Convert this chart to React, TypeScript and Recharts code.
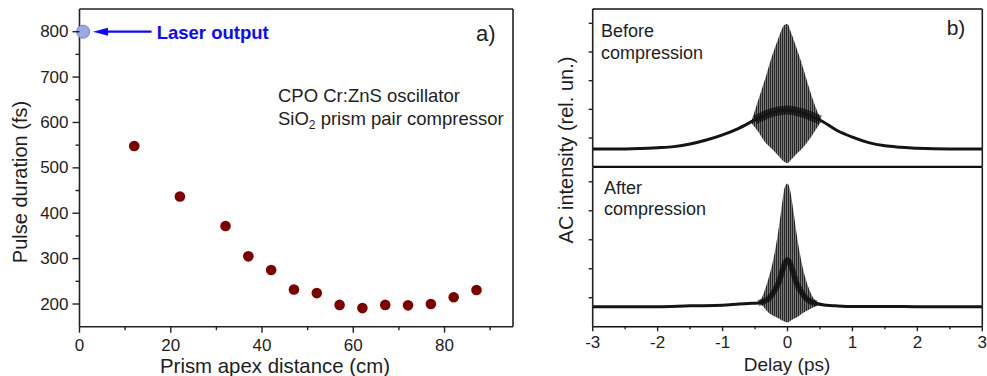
import React from 'react';
import { ScatterChart, Scatter, ComposedChart, Line, Area, XAxis, YAxis, ReferenceLine } from 'recharts';

// a) pulse duration vs prism apex distance
const apexDistance = [12, 22, 32, 37, 42, 47, 52, 57, 62, 67, 72, 77, 82, 87];
const pulseDuration = [548, 437, 372, 305, 275, 232, 224, 198, 191, 198, 197, 200, 215, 231];
const laserDistance = [0.8];
const laserDuration = [800];

const apexTicks = [0, 10, 20, 30, 40, 50, 60, 70, 80, 90];
const durationTicks = [200, 250, 300, 350, 400, 450, 500, 550, 600, 650, 700, 750, 800];

// b) interferometric autocorrelation traces
const delayTicks = [-3, -2.5, -2, -1.5, -1, -0.5, 0, 0.5, 1, 1.5, 2, 2.5, 3];
const acTicks = [1, 2, 3, 4, 5];

const beforeDelay = [-3, -2.5, -2, -1.75, -1.5, -1.25, -1, -0.75, -0.5, -0.25, 0, 0.25, 0.5, 0.75, 1, 1.25, 1.5, 1.75, 2, 2.5, 3];
const beforeTrace = [0.62, 0.62, 0.66, 0.7, 0.79, 0.93, 1.11, 1.34, 1.63, 1.88, 1.98, 1.86, 1.63, 1.28, 1.03, 0.84, 0.73, 0.68, 0.64, 0.62, 0.62];
const beforeFringeDelay = [-0.55, -0.45, -0.35, -0.25, -0.15, -0.05, 0, 0.05, 0.15, 0.25, 0.35, 0.45, 0.52];
const beforeFringeHigh = [1.63, 2.33, 3.02, 3.78, 4.42, 4.94, 4.98, 4.71, 4.07, 3.37, 2.62, 1.98, 1.63];
const beforeFringeLow = [1.51, 1.22, 0.87, 0.64, 0.41, 0.17, 0.12, 0.23, 0.47, 0.7, 0.99, 1.34, 1.57];

const afterDelay = [-3, -2, -1.5, -1, -0.75, -0.6, -0.45, -0.3, -0.15, 0, 0.15, 0.3, 0.45, 0.6, 0.75, 1, 1.5, 2, 3];
const afterTrace = [0.69, 0.69, 0.72, 0.74, 0.78, 0.8, 0.82, 0.95, 1.45, 2.3, 1.45, 0.95, 0.8, 0.74, 0.72, 0.7, 0.7, 0.69, 0.69];
const afterFringeDelay = [-0.45, -0.4, -0.3, -0.22, -0.14, -0.09, -0.04, 0, 0.04, 0.09, 0.14, 0.22, 0.32, 0.42, 0.5];
const afterFringeHigh = [0.8, 0.98, 1.61, 2.3, 3.33, 4.14, 4.83, 4.94, 4.71, 4.02, 3.22, 2.19, 1.38, 0.92, 0.8];
const afterFringeLow = [0.8, 0.75, 0.5, 0.38, 0.29, 0.22, 0.17, 0.15, 0.2, 0.27, 0.32, 0.45, 0.58, 0.69, 0.75];

const FONT = "'Liberation Sans', Arial, sans-serif";
const INK = '#1e1e1e';
const AXIS = '#222';
const BLUE = '#0a0aff';

const pulsePoints = apexDistance.map((x, i) => ({ x, y: pulseDuration[i] }));
const laserPoints = laserDistance.map((x, i) => ({ x, y: laserDuration[i] }));

const beforeRows = beforeDelay.map((t, i) => ({ t, v: beforeTrace[i] }));
const beforeCore = beforeRows.filter(r => Math.abs(r.t) <= 0.55);
const beforeBand = beforeFringeDelay.map((t, i) => ({ t, band: [beforeFringeLow[i], beforeFringeHigh[i]] }));
const afterRows = afterDelay.map((t, i) => ({ t, v: afterTrace[i] }));
const afterCore = afterRows.filter(r => Math.abs(r.t) <= 0.45);
const afterBand = afterFringeDelay.map((t, i) => ({ t, band: [afterFringeLow[i], afterFringeHigh[i]] }));

const num = (v: any) => Number(v);

const DurationTick = (props: any) => {
  const x = num(props.x), y = num(props.y);
  const major = props.payload.value % 100 === 0;
  return (
    <g>
      <path d={`M${x},${y}H${x - (major ? 7 : 4)}`} stroke={AXIS} strokeWidth={1.4} fill="none" />
      {major && (
        <text x={x - 11} y={y} textAnchor="end" dominantBaseline="central" fontSize={17} fill={INK} fontFamily={FONT}>
          {props.payload.value}
        </text>
      )}
    </g>
  );
};

const ApexTick = (props: any) => {
  const x = num(props.x), y = num(props.y);
  const major = props.payload.value % 20 === 0;
  return (
    <g>
      <path d={`M${x},${y}V${y + (major ? 6 : 3.5)}`} stroke={AXIS} strokeWidth={1.4} fill="none" />
      {major && (
        <text x={x} y={y + 24.5} textAnchor="middle" fontSize={17} fill={INK} fontFamily={FONT}>
          {props.payload.value}
        </text>
      )}
    </g>
  );
};

// ticks for panel b: dir = +1 points down, -1 points up
const makeDelayTick = (dir: number, labels: boolean) => (props: any) => {
  const x = num(props.x), y = num(props.y);
  const major = Number.isInteger(props.payload.value);
  return (
    <g>
      <path d={`M${x},${y}V${y + dir * (major ? 4.5 : 2.5)}`} stroke={AXIS} strokeWidth={1.4} fill="none" />
      {labels && major && (
        <text x={x} y={y + 21.6} textAnchor="middle" fontSize={17} fill={INK} fontFamily={FONT}>
          {props.payload.value}
        </text>
      )}
    </g>
  );
};
const TopTick = makeDelayTick(1, false);
const DividerUpTick = makeDelayTick(-1, false);
const DividerDownTick = makeDelayTick(1, false);
const BottomTick = makeDelayTick(1, true);

const AcTick = (props: any) => {
  const x = num(props.x), y = num(props.y);
  return <path d={`M${x},${y}H${x - 4}`} stroke={AXIS} strokeWidth={1.4} fill="none" />;
};

const LaserArrow = ({ x1, y1, x2, y2 }: any) => (
  <g>
    <line x1={x1} y1={y1} x2={x2 + 10} y2={y2} stroke={BLUE} strokeWidth={2.2} />
    <polygon points={`${x2},${y2} ${x2 + 15},${y2 - 4} ${x2 + 15},${y2 + 4}`} fill={BLUE} />
  </g>
);

const FringePattern = ({ id }: { id: string }) => (
  <defs>
    <pattern id={id} width={2} height={6} patternUnits="userSpaceOnUse">
      <rect width={2} height={6} fill="#6a6a6a" />
      <rect width={1} height={6} fill="#101010" />
    </pattern>
  </defs>
);

const AcPanel = ({ rows, core, band, patternId, bottom }: any) => (
  <ComposedChart
    width={447}
    height={bottom ? 209 : 167}
    margin={bottom ? { top: 0.3, right: 4.7, bottom: 9.3, left: 12.7 } : { top: 9, right: 4.7, bottom: 0.3, left: 12.7 }}
  >
    <FringePattern id={patternId} />
    <XAxis
      dataKey="t"
      type="number"
      domain={[-3, 3]}
      ticks={delayTicks}
      interval={0}
      height={bottom ? 40 : 0}
      tickSize={0}
      tickMargin={0}
      tickLine={false}
      tick={bottom ? BottomTick : DividerUpTick}
      axisLine={false}
    />
    <XAxis
      xAxisId="top"
      dataKey="t"
      type="number"
      orientation="top"
      domain={[-3, 3]}
      ticks={delayTicks}
      interval={0}
      height={0}
      tickSize={0}
      tickMargin={0}
      tickLine={false}
      tick={bottom ? DividerDownTick : TopTick}
      axisLine={false}
    />
    <YAxis
      type="number"
      domain={[0, 5.5]}
      ticks={acTicks}
      interval={0}
      width={40}
      tickSize={0}
      tickMargin={0}
      tickLine={false}
      tick={AcTick}
      axisLine={false}
    />
    <Area data={band} dataKey="band" type="monotone" stroke="none" fill={`url(#${patternId})`} fillOpacity={0.9} isAnimationActive={false} />
    <Line data={core} dataKey="v" type="monotone" stroke="#000" strokeOpacity={0.6} strokeWidth={bottom ? 6 : 9} dot={false} activeDot={false} isAnimationActive={false} />
    <Line data={rows} dataKey="v" type="monotone" stroke="#141414" strokeWidth={3} dot={false} activeDot={false} isAnimationActive={false} />
    {/* frame */}
    <ReferenceLine x={-3} stroke={AXIS} strokeWidth={1.6} ifOverflow="visible" />
    <ReferenceLine x={3} stroke={AXIS} strokeWidth={1.6} ifOverflow="visible" />
    <ReferenceLine y={0} stroke="#111" strokeWidth={bottom ? 1.6 : 2} ifOverflow="visible" />
    <ReferenceLine y={5.5} stroke="#111" strokeWidth={bottom ? 1.6 : 1.5} ifOverflow="visible" />
  </ComposedChart>
);

export default function App() {
  return (
    <div style={{ position: 'absolute', left: 0, top: 0, width: 987, height: 376, background: '#fff', fontFamily: FONT }}>
      <div style={{ position: 'absolute', left: 0, top: 0 }}>
        <ScatterChart width={540} height={376} margin={{ top: 9, right: 27, bottom: 9.3, left: 19.5 }}>
          <XAxis
            dataKey="x"
            type="number"
            domain={[0, 95]}
            ticks={apexTicks}
            interval={0}
            height={40}
            tickSize={0}
            tickMargin={0}
            tickLine={false}
            tick={ApexTick}
            axisLine={false}
          />
          <YAxis
            dataKey="y"
            type="number"
            domain={[150, 850]}
            ticks={durationTicks}
            interval={0}
            width={60}
            tickSize={0}
            tickMargin={0}
            tickLine={false}
            tick={DurationTick}
            axisLine={false}
          />
          {/* frame */}
          <ReferenceLine x={0} stroke={AXIS} strokeWidth={1.6} ifOverflow="visible" />
          <ReferenceLine x={95} stroke={AXIS} strokeWidth={1.6} ifOverflow="visible" />
          <ReferenceLine y={150} stroke={AXIS} strokeWidth={1.6} ifOverflow="visible" />
          <ReferenceLine y={850} stroke={AXIS} strokeWidth={1.6} ifOverflow="visible" />
          <ReferenceLine segment={[{ x: 15.8, y: 800 }, { x: 2.95, y: 800 }]} shape={LaserArrow} />
          <Scatter
            data={pulsePoints}
            isAnimationActive={false}
            shape={(p: any) => <circle cx={p.cx} cy={p.cy} r={5.3} fill="#7d0000" />}
          />
          <Scatter
            data={laserPoints}
            isAnimationActive={false}
            shape={(p: any) => <circle cx={p.cx} cy={p.cy} r={6.5} fill="#9aa9e6" stroke="#7485c9" strokeWidth={1} />}
          />
        </ScatterChart>
      </div>

      <div style={{ position: 'absolute', left: 540, top: 0 }}>
        <AcPanel rows={beforeRows} core={beforeCore} band={beforeBand} patternId="fringeBefore" bottom={false} />
      </div>
      <div style={{ position: 'absolute', left: 540, top: 167 }}>
        <AcPanel rows={afterRows} core={afterCore} band={afterBand} patternId="fringeAfter" bottom={true} />
      </div>

      <svg width={987} height={376} style={{ position: 'absolute', left: 0, top: 0, pointerEvents: 'none' }} fontFamily={FONT}>
        <text x={20} y={182} transform="rotate(-90 20 182)" textAnchor="middle" dominantBaseline="central" fontSize={20} fill={INK}>
          Pulse duration (fs)
        </text>
        <text x={275} y={373} textAnchor="middle" fontSize={20.4} fill={INK}>
          Prism apex distance (cm)
        </text>
        <text x={156.7} y={39} fontSize={18.5} fontWeight="bold" fill={BLUE}>
          Laser output
        </text>
        <text x={476} y={41} fontSize={22} fill={INK}>a)</text>
        <text x={278} y={101.7} fontSize={18.5} fill={INK}>CPO Cr:ZnS oscillator</text>
        <text x={278} y={125} fontSize={18.5} fill={INK}>
          SiO<tspan fontSize={12} dy={4}>2</tspan>
          <tspan dy={-4}> prism pair compressor</tspan>
        </text>

        <text x={566} y={150} transform="rotate(-90 566 150)" textAnchor="middle" dominantBaseline="central" fontSize={20} fill={INK}>
          AC intensity (rel. un.)
        </text>
        <text x={787} y={371} textAnchor="middle" fontSize={19} fill={INK}>Delay (ps)</text>
        <text x={946.7} y={35} fontSize={21} fill={INK}>b)</text>
        <text x={601} y={37} fontSize={18} fill={INK}>Before</text>
        <text x={601} y={59} fontSize={18} fill={INK}>compression</text>
        <text x={604} y={193.5} fontSize={18} fill={INK}>After</text>
        <text x={604} y={215} fontSize={18} fill={INK}>compression</text>
      </svg>
    </div>
  );
}
